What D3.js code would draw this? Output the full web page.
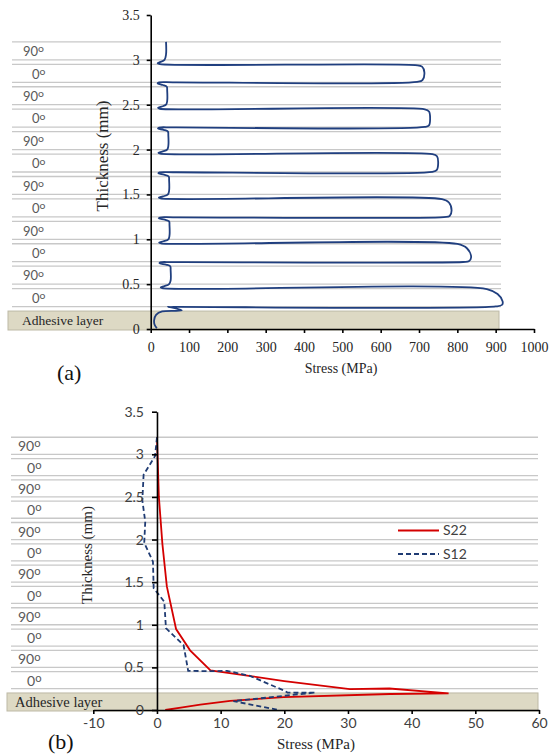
<!DOCTYPE html>
<html>
<head>
<meta charset="utf-8">
<script src="https://cdnjs.cloudflare.com/ajax/libs/d3/7.8.5/d3.min.js"></script>
<style>
    body { margin: 0; background: #fff; }
    .axis path, .axis line { stroke: #000; stroke-width: 1.6; }
    .grid { stroke: #c8c8c8; stroke-width: 1.3; }
    .adhesive { fill: #ddd9c4; stroke: #bdb9a6; stroke-width: 1; }
    .serif { font-family: 'Liberation Serif', 'DejaVu Serif', serif; }
    .sans { font-family: 'Lato', 'Liberation Sans', sans-serif; }
</style>
</head>
<body>
<div id="chart"></div>
<script>
// layer structure, thickness in mm (same laminate in both panels)
let adhesiveTop = 0.2;
let layerLines = [0.25, 0.45, 0.5, 0.7, 0.75, 0.95, 1.0, 1.2, 1.25, 1.45, 1.5, 1.7,
    1.75, 1.95, 2.0, 2.2, 2.25, 2.45, 2.5, 2.7, 2.75, 2.95, 3.0, 3.2];
let plyAngles = ["0", "90", "0", "90", "0", "90", "0", "90", "0", "90", "0", "90"];
let plyCenters = [0.35, 0.6, 0.85, 1.1, 1.35, 1.6, 1.85, 2.1, 2.35, 2.6, 2.85, 3.1];

// tick values
let thicknessTicks = [0, 0.5, 1, 1.5, 2, 2.5, 3, 3.5];
let stressTicksA = [0, 100, 200, 300, 400, 500, 600, 700, 800, 900, 1000];
let stressTicksB = [-10, 0, 10, 20, 30, 40, 50, 60];

// (a) stress profile [stress MPa, thickness mm], read from top to bottom
let profileA = [
    [40, 3.2], [40, 3.06], [36, 3.0], [24, 2.975], [18, 2.962], [24, 2.952],
    [690, 2.942], [708, 2.925], [714, 2.86], [709, 2.775], [695, 2.755], [60, 2.75], [22, 2.748],
    [18, 2.738], [32, 2.72], [42, 2.7], [43, 2.66], [43, 2.54], [40, 2.5], [28, 2.478], [19, 2.465], [24, 2.455],
    [715, 2.448], [726, 2.425], [729, 2.35], [726, 2.27], [715, 2.252], [60, 2.247], [22, 2.245],
    [19, 2.235], [34, 2.22], [45, 2.2], [46, 2.16], [46, 2.04], [43, 2.0], [30, 1.978], [20, 1.965], [25, 1.955],
    [735, 1.948], [747, 1.925], [750, 1.85], [746, 1.77], [735, 1.752], [60, 1.747], [23, 1.745],
    [20, 1.735], [35, 1.72], [47, 1.7], [48, 1.66], [48, 1.54], [45, 1.5], [32, 1.478], [21, 1.465], [26, 1.455],
    [760, 1.447], [778, 1.41], [785, 1.32], [780, 1.26], [765, 1.248], [60, 1.245], [24, 1.243],
    [21, 1.233], [37, 1.218], [48, 1.2], [49, 1.16], [49, 1.04], [46, 1.0], [33, 0.978], [22, 0.965], [27, 0.955],
    [800, 0.948], [825, 0.9], [836, 0.8], [830, 0.755], [815, 0.747], [60, 0.745], [25, 0.743],
    [23, 0.733], [40, 0.718], [51, 0.7], [52, 0.66], [52, 0.54], [48, 0.5], [36, 0.478], [26, 0.465], [30, 0.455],
    [877, 0.445], [905, 0.39], [918, 0.31], [917, 0.27], [900, 0.251], [60, 0.246], [48, 0.244],
    [45, 0.25], [81, 0.206], [30, 0.196], [14, 0.158], [9, 0.1], [10, 0.05], [16, 0.008]
];

// (b) S22 and S12 [stress MPa, thickness mm]
let s22 = [
    [0, 3.2], [0.3, 2.5], [0.85, 1.95], [1.55, 1.45], [3.0, 0.95], [5.2, 0.7], [8.4, 0.465],
    [20, 0.34], [30.3, 0.245], [36.5, 0.252], [45.8, 0.196], [36.6, 0.188], [19.9, 0.15],
    [11.5, 0.108], [6.8, 0.062], [4.0, 0.032], [1.3, 0]
];
let s12 = [
    [0, 3.2], [-0.3, 2.98], [-2.1, 2.76], [-2.3, 2.46], [-1.84, 2.21], [-2.0, 1.96], [-0.63, 1.74],
    [-0.52, 1.43], [1.15, 1.27], [1.41, 0.96], [4.18, 0.76], [4.9, 0.46], [8.4, 0.455], [11.0, 0.46],
    [14.6, 0.40], [19.9, 0.23], [20.5, 0.205], [24.9, 0.205], [12.0, 0.104], [19.1, 0]
];
let seriesNames = ["S22", "S12"];

let svg = d3.select("#chart").append("svg")
    .attr("width", 549)
    .attr("height", 756);

let xA = d3.scaleLinear().domain([0, 1000]).range([150.7, 534]);
let yA = d3.scaleLinear().domain([0, 3.5]).range([329, 15]);
let xB = d3.scaleLinear().domain([-10, 60]).range([93.3, 539]);
let yB = d3.scaleLinear().domain([0, 3.5]).range([710, 411.7]);

//---LAYERS (adhesive band, ply lines, ply labels)------------------------------
function drawLayers(yScale, o) {
    let g = svg.append("g");
    g.append("rect")
        .attr("class", "adhesive")
        .attr("x", o.left)
        .attr("y", yScale(adhesiveTop))
        .attr("width", o.rectRight - o.left)
        .attr("height", yScale(0) - yScale(adhesiveTop) + 1);

    g.selectAll(".grid").data(layerLines).enter().append("line")
        .attr("class", "grid")
        .attr("x1", o.left + 4)
        .attr("x2", o.right)
        .attr("y1", d => yScale(d))
        .attr("y2", d => yScale(d));

    let labels = g.selectAll(".ply").data(plyAngles).enter().append("text")
        .attr("class", "ply sans")
        .attr("x", d => d === "90" ? o.x90 : o.x0)
        .attr("y", (d, i) => yScale(plyCenters[i]))
        .attr("dy", "0.4em")
        .attr("font-size", o.size)
        .attr("fill", "#595959");
    labels.append("tspan").text(d => d);
    labels.append("tspan").text("o")
        .attr("font-size", "0.8em")
        .attr("dy", "-0.35em");

    g.append("text")
        .attr("class", "serif")
        .text("Adhesive layer")
        .attr("x", o.adhX)
        .attr("y", (yScale(0) + yScale(adhesiveTop)) / 2)
        .attr("dy", "0.35em")
        .attr("font-size", o.adhSize)
        .attr("fill", "#262626");
}

drawLayers(yA, {left: 8, right: 501, rectRight: 499, x90: 23, x0: 32, size: 13, adhX: 22, adhSize: 13.5});
drawLayers(yB, {left: 7, right: 538, rectRight: 538, x90: 18, x0: 27, size: 14, adhX: 15, adhSize: 14.5});

//---PANEL (a) CURVE------------------------------------------------------------
let lineA = d3.line()
    .x(d => xA(d[0]))
    .y(d => yA(d[1]))
    .curve(d3.curveCatmullRom.alpha(0.5));

svg.append("path")
    .datum(profileA)
    .attr("d", lineA)
    .attr("fill", "none")
    .attr("stroke", "#203f7f")
    .attr("stroke-width", 1.8);

//---PANEL (a) AXES-------------------------------------------------------------
let xAxisA = svg.append("g")
    .attr("transform", "translate(0," + yA(0) + ")")
    .call(d3.axisBottom(xA).tickValues(stressTicksA).tickSize(4).tickSizeOuter(0).tickPadding(9).tickFormat(d => d));
xAxisA.attr("class", "axis serif").attr("font-family", null).attr("font-size", 14)
    .selectAll("text").attr("fill", "#262626");

let yAxisA = svg.append("g")
    .attr("transform", "translate(" + xA(0) + ",0)")
    .call(d3.axisLeft(yA).tickValues(thicknessTicks).tickSize(4).tickSizeOuter(0).tickPadding(7).tickFormat(d => d));
yAxisA.attr("class", "axis serif").attr("font-family", null).attr("font-size", 14)
    .selectAll("text").attr("fill", "#262626");

svg.append("text")
    .attr("class", "serif")
    .text("Stress (MPa)")
    .attr("x", 341).attr("y", 368).attr("dy", "0.35em")
    .style("text-anchor", "middle")
    .attr("font-size", 14).attr("fill", "#262626");

svg.append("text")
    .attr("class", "serif")
    .text("Thickness (mm)")
    .attr("transform", "translate(102,156) rotate(-90)")
    .attr("dy", "0.35em")
    .style("text-anchor", "middle")
    .attr("font-size", 17).attr("fill", "#262626");

svg.append("text")
    .attr("class", "serif")
    .text("(a)")
    .attr("x", 57).attr("y", 372).attr("dy", "0.35em")
    .attr("font-size", 22).attr("fill", "#111");

//---PANEL (b) CURVES-----------------------------------------------------------
let lineB = d3.line()
    .x(d => xB(d[0]))
    .y(d => yB(d[1]));

svg.append("path")
    .datum(s22)
    .attr("d", lineB)
    .attr("fill", "none")
    .attr("stroke", "#d40000")
    .attr("stroke-width", 1.8);

svg.append("path")
    .datum(s12)
    .attr("d", lineB)
    .attr("fill", "none")
    .attr("stroke", "#1f3b73")
    .attr("stroke-width", 1.8)
    .attr("stroke-dasharray", "5,3");

//---PANEL (b) AXES-------------------------------------------------------------
let xAxisB = svg.append("g")
    .attr("transform", "translate(0," + yB(0) + ")")
    .call(d3.axisBottom(xB).tickValues(stressTicksB).tickSize(4).tickSizeOuter(0).tickPadding(4).tickFormat(d => d));
xAxisB.attr("class", "axis sans").attr("font-family", null).attr("font-size", 14)
    .selectAll("text").attr("fill", "#404040");

let yAxisB = svg.append("g")
    .attr("transform", "translate(" + xB(0) + ",0)")
    .call(d3.axisLeft(yB).tickValues(thicknessTicks).tickSize(5).tickSizeOuter(0).tickPadding(8).tickFormat(d => d));
yAxisB.attr("class", "axis sans").attr("font-family", null).attr("font-size", 14)
    .selectAll("text").attr("fill", "#404040");

svg.append("text")
    .attr("class", "serif")
    .text("Stress (MPa)")
    .attr("x", 316).attr("y", 744).attr("dy", "0.35em")
    .style("text-anchor", "middle")
    .attr("font-size", 15).attr("fill", "#262626");

svg.append("text")
    .attr("class", "serif")
    .text("Thickness (mm)")
    .attr("transform", "translate(87,555) rotate(-90)")
    .attr("dy", "0.35em")
    .style("text-anchor", "middle")
    .attr("font-size", 15).attr("fill", "#262626");

svg.append("text")
    .attr("class", "serif")
    .text("(b)")
    .attr("x", 48).attr("y", 741).attr("dy", "0.35em")
    .attr("font-size", 22).attr("fill", "#111");

//---LEGEND---------------------------------------------------------------------
let legendStyles = [
    {color: "#d40000", dash: null, y: 530.5},
    {color: "#1f3b73", dash: "5,3", y: 554}
];
let legend = svg.selectAll(".legend").data(seriesNames).enter().append("g")
    .attr("class", "legend");
legend.append("line")
    .attr("x1", 398).attr("x2", 439)
    .attr("y1", (d, i) => legendStyles[i].y)
    .attr("y2", (d, i) => legendStyles[i].y)
    .attr("stroke", (d, i) => legendStyles[i].color)
    .attr("stroke-width", 1.8)
    .attr("stroke-dasharray", (d, i) => legendStyles[i].dash);
legend.append("text")
    .attr("class", "sans")
    .text(d => d)
    .attr("x", 443)
    .attr("y", (d, i) => legendStyles[i].y)
    .attr("dy", "0.35em")
    .attr("font-size", 14).attr("fill", "#404040");
</script>
</body>
</html>
